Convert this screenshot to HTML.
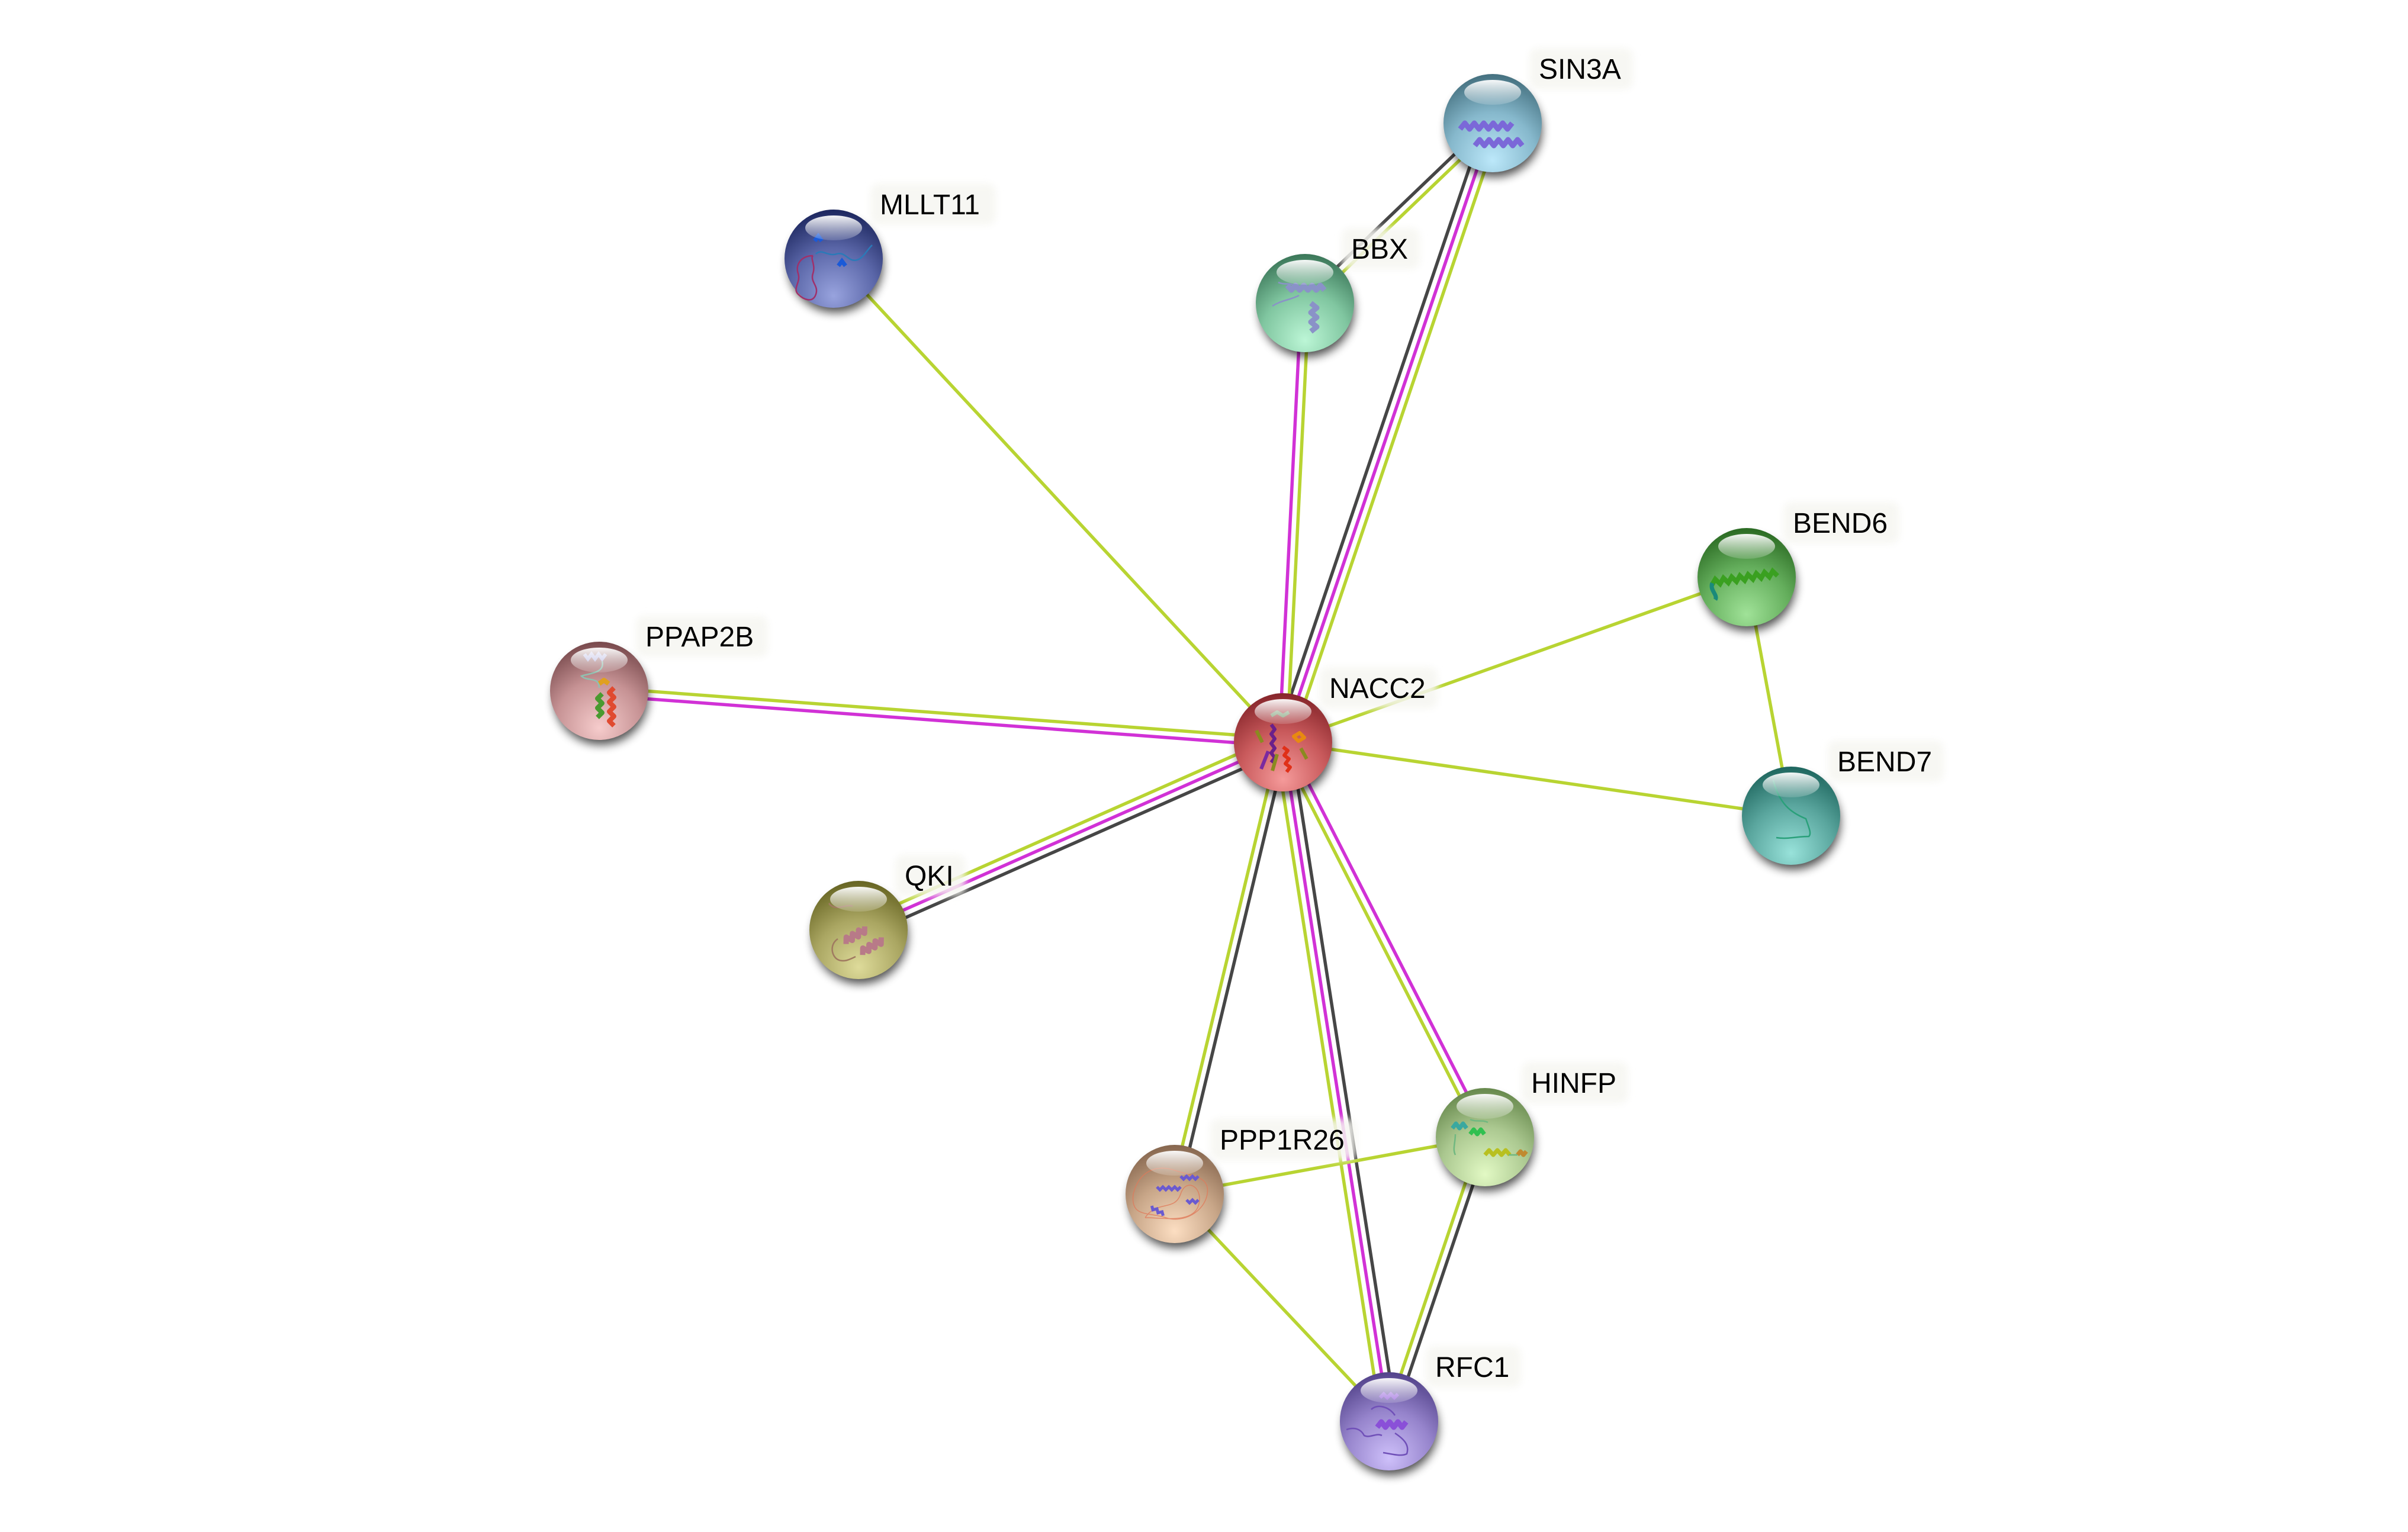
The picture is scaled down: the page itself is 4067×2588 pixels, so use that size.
<!DOCTYPE html>
<html>
<head>
<meta charset="utf-8">
<style>
html,body{margin:0;padding:0;background:#fff;}
svg{display:block;}
text{font-family:"Liberation Sans",Arial,sans-serif;font-size:48px;fill:#000;}
</style>
</head>
<body>
<svg width="4067" height="2588" viewBox="0 0 4067 2588" xmlns="http://www.w3.org/2000/svg">
<defs>
  <filter id="sh" x="-50%" y="-50%" width="200%" height="200%"><feGaussianBlur stdDeviation="8"/></filter>
  <filter id="lb" x="-20%" y="-40%" width="140%" height="180%"><feGaussianBlur stdDeviation="6"/></filter>
  <linearGradient id="hl" x1="0" y1="0" x2="0" y2="1">
    <stop offset="0" stop-color="#fff" stop-opacity="0.95"/>
    <stop offset="1" stop-color="#fff" stop-opacity="0.15"/>
  </linearGradient>
  <radialGradient id="gNACC2" cx="0.5" cy="0.8" r="0.8" fx="0.5" fy="0.88"><stop offset="0" stop-color="#f59a9a"/><stop offset="0.55" stop-color="#c95a5c"/><stop offset="1" stop-color="#86252a"/></radialGradient>
  <radialGradient id="gSIN3A" cx="0.5" cy="0.8" r="0.8" fx="0.5" fy="0.88"><stop offset="0" stop-color="#bce8fa"/><stop offset="0.55" stop-color="#86b8cc"/><stop offset="1" stop-color="#44707f"/></radialGradient>
  <radialGradient id="gMLLT11" cx="0.5" cy="0.8" r="0.8" fx="0.5" fy="0.88"><stop offset="0" stop-color="#98a3de"/><stop offset="0.55" stop-color="#5a66a8"/><stop offset="1" stop-color="#1c265e"/></radialGradient>
  <radialGradient id="gBBX" cx="0.5" cy="0.8" r="0.8" fx="0.5" fy="0.88"><stop offset="0" stop-color="#bcf6d6"/><stop offset="0.55" stop-color="#80c6a0"/><stop offset="1" stop-color="#3a7658"/></radialGradient>
  <radialGradient id="gBEND6" cx="0.5" cy="0.8" r="0.8" fx="0.5" fy="0.88"><stop offset="0" stop-color="#a0e298"/><stop offset="0.55" stop-color="#64ae5c"/><stop offset="1" stop-color="#2a6a22"/></radialGradient>
  <radialGradient id="gBEND7" cx="0.5" cy="0.8" r="0.8" fx="0.5" fy="0.88"><stop offset="0" stop-color="#98e2da"/><stop offset="0.55" stop-color="#5aa69e"/><stop offset="1" stop-color="#1e665e"/></radialGradient>
  <radialGradient id="gPPAP2B" cx="0.5" cy="0.8" r="0.8" fx="0.5" fy="0.88"><stop offset="0" stop-color="#f6cccc"/><stop offset="0.55" stop-color="#c69294"/><stop offset="1" stop-color="#78494c"/></radialGradient>
  <radialGradient id="gQKI" cx="0.5" cy="0.8" r="0.8" fx="0.5" fy="0.88"><stop offset="0" stop-color="#dedb9a"/><stop offset="0.55" stop-color="#aaa662"/><stop offset="1" stop-color="#666422"/></radialGradient>
  <radialGradient id="gHINFP" cx="0.5" cy="0.8" r="0.8" fx="0.5" fy="0.88"><stop offset="0" stop-color="#e2f9c4"/><stop offset="0.55" stop-color="#abc890"/><stop offset="1" stop-color="#66884c"/></radialGradient>
  <radialGradient id="gPPP1R26" cx="0.5" cy="0.8" r="0.8" fx="0.5" fy="0.88"><stop offset="0" stop-color="#fcdec2"/><stop offset="0.55" stop-color="#c8a688"/><stop offset="1" stop-color="#86664e"/></radialGradient>
  <radialGradient id="gRFC1" cx="0.5" cy="0.8" r="0.8" fx="0.5" fy="0.88"><stop offset="0" stop-color="#cec0fa"/><stop offset="0.55" stop-color="#9684cc"/><stop offset="1" stop-color="#52428a"/></radialGradient>
</defs>

<rect width="4067" height="2588" fill="#fff"/>

<!-- EDGES -->
<g stroke-width="5.5" stroke-linecap="butt" fill="none">
  <!-- SIN3A - BBX -->
  <line x1="2199.5" y1="507.3" x2="2516.5" y2="203.3" stroke="#464646"/>
  <line x1="2208.5" y1="516.7" x2="2525.5" y2="212.7" stroke="#b8d432"/>
  <!-- NACC2 - SIN3A -->
  <line x1="2154.7" y1="1249.8" x2="2508.7" y2="203.8" stroke="#464646"/>
  <line x1="2167" y1="1254" x2="2521" y2="208" stroke="#d131d6"/>
  <line x1="2179.3" y1="1258.2" x2="2533.3" y2="212.2" stroke="#b8d432"/>
  <!-- NACC2 - BBX -->
  <line x1="2160.5" y1="1253.7" x2="2197.5" y2="511.7" stroke="#d131d6"/>
  <line x1="2173.5" y1="1254.3" x2="2210.5" y2="512.3" stroke="#b8d432"/>
  <!-- MLLT11 - NACC2 -->
  <line x1="1408" y1="437" x2="2167" y2="1254" stroke="#b8d432"/>
  <!-- PPAP2B - NACC2 -->
  <line x1="1012.5" y1="1161.5" x2="2167.5" y2="1247.5" stroke="#b8d432"/>
  <line x1="1011.5" y1="1174.5" x2="2166.5" y2="1260.5" stroke="#d131d6"/>
  <!-- QKI - NACC2 -->
  <line x1="1444.7" y1="1559.1" x2="2161.7" y2="1242.1" stroke="#b8d432"/>
  <line x1="1450" y1="1571" x2="2167" y2="1254" stroke="#d131d6"/>
  <line x1="1455.3" y1="1582.9" x2="2172.3" y2="1265.9" stroke="#464646"/>
  <!-- BEND6 / BEND7 -->
  <line x1="2167" y1="1254" x2="2950" y2="975" stroke="#b8d432"/>
  <line x1="2167" y1="1254" x2="3025" y2="1378" stroke="#b8d432"/>
  <line x1="2950" y1="975" x2="3025" y2="1378" stroke="#b8d432"/>
  <!-- NACC2 - PPP1R26 -->
  <line x1="2160.7" y1="1252.5" x2="1977.7" y2="2015.5" stroke="#b8d432"/>
  <line x1="2173.3" y1="1255.5" x2="1990.3" y2="2018.5" stroke="#464646"/>
  <!-- NACC2 - RFC1 -->
  <line x1="2154.2" y1="1256" x2="2333.2" y2="2403" stroke="#b8d432"/>
  <line x1="2167" y1="1254" x2="2346" y2="2401" stroke="#d131d6"/>
  <line x1="2179.8" y1="1252" x2="2358.8" y2="2399" stroke="#464646"/>
  <!-- NACC2 - HINFP -->
  <line x1="2161.2" y1="1257" x2="2502.2" y2="1924" stroke="#b8d432"/>
  <line x1="2172.8" y1="1251" x2="2513.8" y2="1918" stroke="#d131d6"/>
  <!-- PPP1R26 - HINFP, PPP1R26 - RFC1 -->
  <line x1="1984" y1="2017" x2="2508" y2="1921" stroke="#b8d432"/>
  <line x1="1984" y1="2017" x2="2346" y2="2401" stroke="#b8d432"/>
  <!-- HINFP - RFC1 -->
  <line x1="2501.8" y1="1918.9" x2="2339.8" y2="2398.9" stroke="#b8d432"/>
  <line x1="2514.2" y1="1923.1" x2="2352.2" y2="2403.1" stroke="#464646"/>
</g>

<!-- NODES -->
<!-- NACC2 -->
<g transform="translate(2167,1254)">
  <circle cx="3" cy="11" r="80" fill="#000" opacity="0.7" filter="url(#sh)"/>
  <circle r="83" fill="url(#gNACC2)"/>
  <g fill="none" stroke-width="6" stroke-linejoin="round">
    <path d="M-20,-30 l6,8 l-6,8 l6,8 l-6,8 l6,8 l-6,8 l6,8 l-6,8" stroke="#6a1f8a"/>
    <path d="M0,8 l8,6 l-6,8 l8,6 l-6,8 l8,6 l-6,8" stroke="#e03018"/>
    <path d="M18,-10 l10,-6 l8,8 l-10,6 z" stroke="#e88a10"/>
    <path d="M-45,-20 l10,20 M-10,20 l-8,28 M30,10 l10,18" stroke="#8a8a20"/>
    <path d="M-25,15 l-12,30" stroke="#7a2aa0"/>
    <path d="M-20,-45 l10,-6 l10,6 l10,-6" stroke="#7a9a70"/>
  </g>
  <ellipse cx="0" cy="-52" rx="48" ry="21" fill="url(#hl)"/>
</g>
<!-- SIN3A -->
<g transform="translate(2521,208)">
  <circle cx="3" cy="11" r="80" fill="#000" opacity="0.7" filter="url(#sh)"/>
  <circle r="83" fill="url(#gSIN3A)"/>
  <g fill="none" stroke="#7b68d8" stroke-width="9" stroke-linejoin="round">
    <path d="M-55,10 l8,-10 l8,10 l8,-10 l8,10 l8,-10 l8,10 l8,-10 l8,10 l8,-10 l8,10 l8,-10"/>
    <path d="M-30,38 l8,-10 l8,10 l8,-10 l8,10 l8,-10 l8,10 l8,-10 l8,10 l8,-10 l8,10"/>
  </g>
  <ellipse cx="0" cy="-52" rx="48" ry="21" fill="url(#hl)"/>
</g>
<!-- MLLT11 -->
<g transform="translate(1408,437)">
  <circle cx="3" cy="11" r="80" fill="#000" opacity="0.7" filter="url(#sh)"/>
  <circle r="83" fill="url(#gMLLT11)"/>
  <g fill="none" stroke-width="2.5">
    <path d="M-35,-5 c-20,0 -30,15 -25,30 c5,15 -10,25 0,35 c10,10 25,15 30,0 c5,-15 -10,-20 -5,-35 c5,-15 -5,-25 0,-30" stroke="#a0306a"/>
    <path d="M-30,-8 c10,-10 20,5 35,0 c15,-5 20,15 35,10 c10,-3 15,-15 25,-25" stroke="#2a7ab8"/>
  </g>
  <g fill="none" stroke-width="7" stroke="#1a5ad8"><path d="M-32,-30 l6,-8 l6,8"/><path d="M8,12 l6,-8 l6,8"/></g>
  <ellipse cx="0" cy="-52" rx="48" ry="21" fill="url(#hl)"/>
</g>
<!-- BBX -->
<g transform="translate(2204,512)">
  <circle cx="3" cy="11" r="80" fill="#000" opacity="0.7" filter="url(#sh)"/>
  <circle r="83" fill="url(#gBBX)"/>
  <g fill="none" stroke="#8a92c8" stroke-width="9" stroke-linejoin="round">
    <path d="M-30,-30 l7,8 l7,-8 l7,8 l7,-8 l7,8 l7,-8 l7,8 l7,-8 l7,8"/>
    <path d="M10,0 l10,8 l-10,8 l10,8 l-10,8 l10,8 l-10,8"/>
  </g>
  <path d="M-55,5 c15,-10 30,-10 45,-18 M-45,-35 c10,5 20,0 25,5" fill="none" stroke="#8a92c8" stroke-width="2.5"/>
  <ellipse cx="0" cy="-52" rx="48" ry="21" fill="url(#hl)"/>
</g>
<!-- BEND6 -->
<g transform="translate(2950,975)">
  <circle cx="3" cy="11" r="80" fill="#000" opacity="0.7" filter="url(#sh)"/>
  <circle r="83" fill="url(#gBEND6)"/>
  <path d="M-60,5 l7,-9 l7,9 l7,-9 l7,9 l7,-9 l7,9 l7,-9 l7,9 l7,-9 l7,9 l7,-9 l7,9 l7,-9 l7,9 l7,-9 l7,9" fill="none" stroke="#3aa020" stroke-width="8" transform="rotate(-8)"/>
  <path d="M-58,10 c-5,12 10,20 5,28" fill="none" stroke="#1a8a7a" stroke-width="7"/>
  <ellipse cx="0" cy="-52" rx="48" ry="21" fill="url(#hl)"/>
</g>
<!-- BEND7 -->
<g transform="translate(3025,1378)">
  <circle cx="3" cy="11" r="80" fill="#000" opacity="0.7" filter="url(#sh)"/>
  <circle r="83" fill="url(#gBEND7)"/>
  <path d="M-30,-60 c10,40 30,55 55,65 c5,15 10,25 5,30 c-20,0 -35,5 -55,2" fill="none" stroke="#2aa07a" stroke-width="2.5"/>
  <ellipse cx="0" cy="-52" rx="48" ry="21" fill="url(#hl)"/>
</g>
<!-- PPAP2B -->
<g transform="translate(1012,1167)">
  <circle cx="3" cy="11" r="80" fill="#000" opacity="0.7" filter="url(#sh)"/>
  <circle r="83" fill="url(#gPPAP2B)"/>
  <g fill="none" stroke-width="8" stroke-linejoin="round">
    <path d="M25,-5 l-8,8 l8,8 l-8,8 l8,8 l-8,8 l8,8 l-8,8 l8,8" stroke="#e04a30"/>
    <path d="M5,5 l-8,8 l8,8 l-8,8 l8,8 l-8,8" stroke="#4a9a30"/>
    <path d="M0,-12 l8,-6 l8,6" stroke="#e0a020"/>
  </g>
  <path d="M-25,-62 l6,8 l6,-8 l6,8 l6,-8 l6,8 l6,-8" fill="none" stroke="#b0b0e0" stroke-width="6"/>
  <path d="M5,-50 c5,20 -20,20 -35,25 c10,10 30,0 30,20" fill="none" stroke="#90c0b0" stroke-width="2.5"/>
  <ellipse cx="0" cy="-52" rx="48" ry="21" fill="url(#hl)"/>
</g>
<!-- QKI -->
<g transform="translate(1450,1571)">
  <circle cx="3" cy="11" r="80" fill="#000" opacity="0.7" filter="url(#sh)"/>
  <circle r="83" fill="url(#gQKI)"/>
  <g fill="none" stroke="#b87a88" stroke-width="9" stroke-linejoin="round">
    <path d="M-30,10 l6,-10 l6,10 l6,-10 l6,10 l6,-10 l6,10 l6,-10" transform="rotate(-30)"/>
    <path d="M-15,40 l6,-10 l6,10 l6,-10 l6,10 l6,-10 l6,10 l6,-10" transform="rotate(-30)"/>
  </g>
  <path d="M-50,-45 c10,15 30,0 40,5 M-35,15 c-15,10 -10,30 0,35 c10,5 20,0 30,-5" fill="none" stroke="#a07a60" stroke-width="2.5"/>
  <ellipse cx="0" cy="-52" rx="48" ry="21" fill="url(#hl)"/>
</g>
<!-- PPP1R26 -->
<g transform="translate(1984,2017)">
  <circle cx="3" cy="11" r="80" fill="#000" opacity="0.7" filter="url(#sh)"/>
  <circle r="83" fill="url(#gPPP1R26)"/>
  <g fill="none" stroke="#e07a5a" stroke-width="1.5" opacity="0.8">
    <path d="M-70,0 c10,-40 40,-50 70,-40 c30,10 60,10 55,40 c-5,30 -40,50 -70,40 c-30,-10 -60,0 -55,-40 z"/>
    <path d="M-50,40 c20,-30 50,-10 60,-40 c10,-30 40,-10 30,20 c-10,30 -60,20 -90,20"/>
  </g>
  <g fill="none" stroke="#6a5ad0" stroke-width="5">
    <path d="M-30,-12 l5,5 l5,-5 l5,5 l5,-5 l5,5 l5,-5 l5,5 l5,-5"/>
    <path d="M10,-30 l5,5 l5,-5 l5,5 l5,-5 l5,5 l5,-5"/>
    <path d="M-40,25 l5,5 l5,-5 l5,5 l5,-5 l5,5" transform="rotate(30,-30,25)"/>
    <path d="M20,10 l5,5 l5,-5 l5,5 l5,-5"/>
  </g>
  <ellipse cx="0" cy="-52" rx="48" ry="21" fill="url(#hl)"/>
</g>
<!-- HINFP -->
<g transform="translate(2508,1921)">
  <circle cx="3" cy="11" r="80" fill="#000" opacity="0.7" filter="url(#sh)"/>
  <circle r="83" fill="url(#gHINFP)"/>
  <g fill="none" stroke-width="7" stroke-linejoin="round">
    <path d="M-55,-15 l6,-8 l6,8 l6,-8 l6,8" stroke="#3aa8a0"/>
    <path d="M-25,-5 l6,-8 l6,8 l6,-8 l6,8" stroke="#30c050"/>
    <path d="M0,30 l7,-8 l7,8 l7,-8 l7,8 l7,-8 l7,8" stroke="#b8c020"/>
    <path d="M55,30 l5,-6 l5,6 l5,-6" stroke="#c08a30"/>
  </g>
  <path d="M-50,-5 c0,15 -5,25 0,35 M-25,-30 c10,5 20,0 30,5 M40,30 c5,0 10,0 15,0" fill="none" stroke="#70b880" stroke-width="2.5"/>
  <ellipse cx="0" cy="-52" rx="48" ry="21" fill="url(#hl)"/>
</g>
<!-- RFC1 -->
<g transform="translate(2346,2401)">
  <circle cx="3" cy="11" r="80" fill="#000" opacity="0.7" filter="url(#sh)"/>
  <circle r="83" fill="url(#gRFC1)"/>
  <g fill="none" stroke="#8a50d8" stroke-width="9" stroke-linejoin="round">
    <path d="M-20,10 l7,-9 l7,9 l7,-9 l7,9 l7,-9 l7,9 l7,-9"/>
  </g>
  <path d="M-15,-40 l6,-6 l6,6 l6,-6 l6,6 l6,-6" fill="none" stroke="#a070e0" stroke-width="6"/>
  <path d="M-72,14 c15,-5 25,0 30,10 c10,5 20,-5 30,0 M10,20 c15,10 25,20 20,35 c-10,5 -25,0 -40,-2 M-30,-20 c10,-10 30,-5 40,10" fill="none" stroke="#7050b8" stroke-width="2.5"/>
  <ellipse cx="0" cy="-52" rx="48" ry="21" fill="url(#hl)"/>
</g>

<!-- LABEL BACKGROUNDS -->
<g fill="#f6f6f1" opacity="0.85" filter="url(#lb)">
  <rect x="2229" y="1127" width="199" height="70" rx="14"/>
  <rect x="2583" y="81" width="175" height="70" rx="14"/>
  <rect x="1470" y="310" width="212" height="70" rx="14"/>
  <rect x="2266" y="385" width="132" height="70" rx="14"/>
  <rect x="3012" y="848" width="196" height="70" rx="14"/>
  <rect x="3087" y="1251" width="196" height="70" rx="14"/>
  <rect x="1074" y="1040" width="223" height="70" rx="14"/>
  <rect x="1512" y="1444" width="119" height="70" rx="14"/>
  <rect x="2044" y="1890" width="247" height="70" rx="14"/>
  <rect x="2570" y="1794" width="180" height="70" rx="14"/>
  <rect x="2408" y="2274" width="161" height="70" rx="14"/>
</g>

<!-- LABELS -->
<text x="2245" y="1179">NACC2</text>
<text x="2599" y="133">SIN3A</text>
<text x="1486" y="362">MLLT11</text>
<text x="2282" y="437">BBX</text>
<text x="3028" y="900">BEND6</text>
<text x="3103" y="1303">BEND7</text>
<text x="1090" y="1092">PPAP2B</text>
<text x="1528" y="1496">QKI</text>
<text x="2060" y="1942">PPP1R26</text>
<text x="2586" y="1846">HINFP</text>
<text x="2424" y="2326">RFC1</text>
</svg>
</body>
</html>
